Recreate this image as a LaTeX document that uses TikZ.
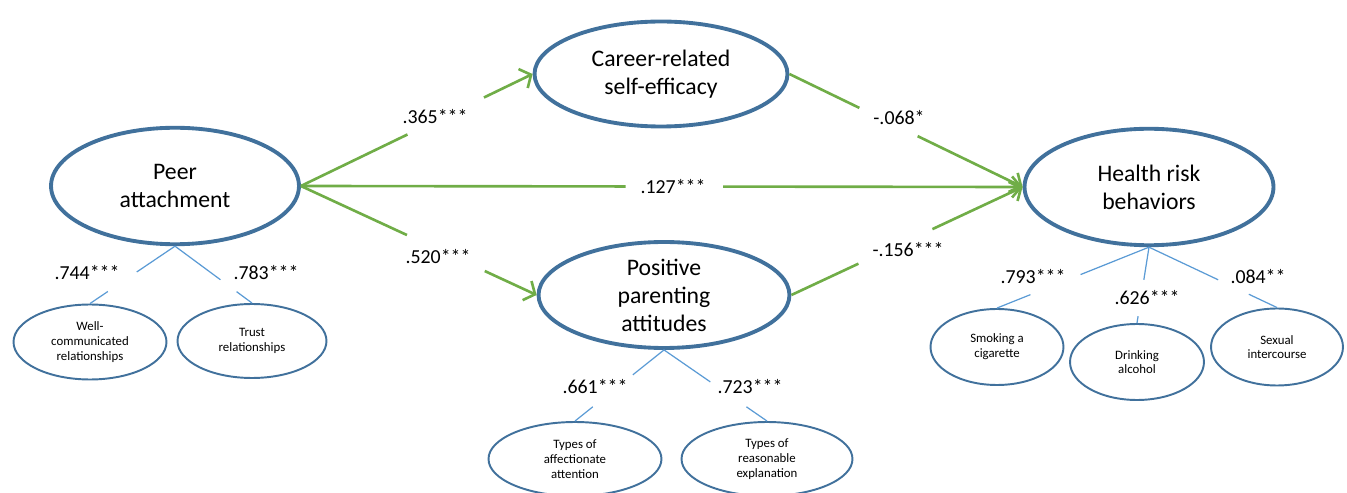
\documentclass[tikz,border=0pt]{standalone}
\usepackage{fontspec}
\setmainfont{Carlito}
\usetikzlibrary{arrows.meta,shapes.geometric}

\definecolor{ellblue}{RGB}{65,113,156}
\definecolor{loadblue}{RGB}{91,155,213}
\definecolor{pathgreen}{RGB}{112,173,71}

\begin{document}
\begin{tikzpicture}[
  x=0.02cm, y=-0.02cm,
  latent/.style={ellipse, draw=ellblue, line width=2.2pt, inner sep=0pt, align=center, font=\fontsize{13.5}{16}\selectfont},
  item/.style={ellipse, draw=ellblue, line width=1.1pt, inner sep=0pt, align=center, font=\fontsize{7.3}{8.4}\selectfont},
  coef/.style={font=\fontsize{11.3}{13}\selectfont, inner sep=0pt},
  effect/.style={pathgreen, line width=1.5pt},
  arr/.style={pathgreen, line width=1.5pt, -{Straight Barb[length=5pt,width=12pt]}},
  load/.style={loadblue, line width=0.7pt}
]
\useasboundingbox (0,0) rectangle (1347,493);

% latent variables
\node[latent, minimum width=4.96cm, minimum height=2.33cm] (peer) at (175,186) {Peer\\attachment};
\node[latent, minimum width=5.06cm, minimum height=2.1cm] (career) at (661,74) {Career-related\\self-efficacy};
\node[latent, minimum width=5.02cm, minimum height=2.12cm] (parent) at (664,295) {Positive\\parenting\\attitudes};
\node[latent, minimum width=4.98cm, minimum height=2.33cm] (health) at (1149,187) {Health risk\\behaviors};

% indicators
\node[item, minimum width=3.06cm, minimum height=1.5cm] (wellcom) at (90,342) {Well-\\communicated\\relationships};
\node[item, minimum width=2.98cm, minimum height=1.48cm] (trust) at (252,341) {Trust\\relationships};
\node[item, minimum width=3.46cm, minimum height=1.48cm] (affect) at (575,459) {Types of\\affectionate\\attention};
\node[item, minimum width=3.42cm, minimum height=1.48cm] (reason) at (767,459) {Types of\\reasonable\\explanation};
\node[item, minimum width=2.66cm, minimum height=1.52cm] (smoke) at (997,347) {Smoking a\\cigarette};
\node[item, minimum width=2.68cm, minimum height=1.52cm] (drink) at (1137,362) {Drinking\\alcohol};
\node[item, minimum width=2.64cm, minimum height=1.54cm] (sex) at (1277,347) {Sexual\\intercourse};

% structural paths
\path (peer.east) -- (career.west) coordinate[pos=.46] (pc1) coordinate[pos=.79] (pc2);
\draw[effect] (peer.east) -- (pc1);
\draw[arr] (pc2) -- (career.west);
\node[coef] (c-pc) at (435,117) {.365***};

\path (peer.east) -- (parent.west) coordinate[pos=.45] (pp1) coordinate[pos=.78] (pp2);
\draw[effect] (peer.east) -- (pp1);
\draw[arr] (pp2) -- (parent.west);
\node[coef] (c-pp) at (438,257) {.520***};

\path (peer.east) -- (health.west) coordinate[pos=.45] (ph1) coordinate[pos=.585] (ph2);
\draw[effect] (peer.east) -- (ph1);
\draw[arr] (ph2) -- (health.west);
\node[coef] (c-ph) at (673,187) {.127***};

\path (career.east) -- (health.west) coordinate[pos=.30] (ch1) coordinate[pos=.55] (ch2);
\draw[effect] (career.east) -- (ch1);
\draw[arr] (ch2) -- (health.west);
\node[coef] (c-ch) at (899,118) {-.068*};

\path (parent.east) -- (health.west) coordinate[pos=.29] (ah1) coordinate[pos=.61] (ah2);
\draw[effect] (parent.east) -- (ah1);
\draw[arr] (ah2) -- (health.west);
\node[coef] (c-ah) at (908,250) {-.156***};

% loadings
\path (peer.south) -- (wellcom.north) coordinate[pos=.45] (l1a) coordinate[pos=.79] (l1b);
\draw[load] (peer.south) -- (l1a) (l1b) -- (wellcom.north);
\node[coef] (c-l1) at (87,273) {.744***};

\path (peer.south) -- (trust.north) coordinate[pos=.59] (l2a) coordinate[pos=.80] (l2b);
\draw[load] (peer.south) -- (l2a) (l2b) -- (trust.north);
\node[coef] (c-l2) at (266,273) {.783***};

\path (parent.south) -- (affect.north) coordinate[pos=.35] (l3a) coordinate[pos=.80] (l3b);
\draw[load] (parent.south) -- (l3a) (l3b) -- (affect.north);
\node[coef] (c-l3) at (595,387) {.661***};

\path (parent.south) -- (reason.north) coordinate[pos=.45] (l4a) coordinate[pos=.80] (l4b);
\draw[load] (parent.south) -- (l4a) (l4b) -- (reason.north);
\node[coef] (c-l4) at (750,387) {.723***};

\path (health.south) -- (smoke.north) coordinate[pos=.45] (l5a) coordinate[pos=.78] (l5b);
\draw[load] (health.south) -- (l5a) (l5b) -- (smoke.north);
\node[coef] (c-l5) at (1033,277) {.793***};

\path (health.south) -- (drink.north) coordinate[pos=.43] (l6a) coordinate[pos=.91] (l6b);
\draw[load] (health.south) -- (l6a) (l6b) -- (drink.north);
\node[coef] (c-l6) at (1147,298) {.626***};

\path (health.south) -- (sex.north) coordinate[pos=.54] (l7a) coordinate[pos=.78] (l7b);
\draw[load] (health.south) -- (l7a) (l7b) -- (sex.north);
\node[coef] (c-l7) at (1258,277) {.084**};

\end{tikzpicture}
\end{document}
